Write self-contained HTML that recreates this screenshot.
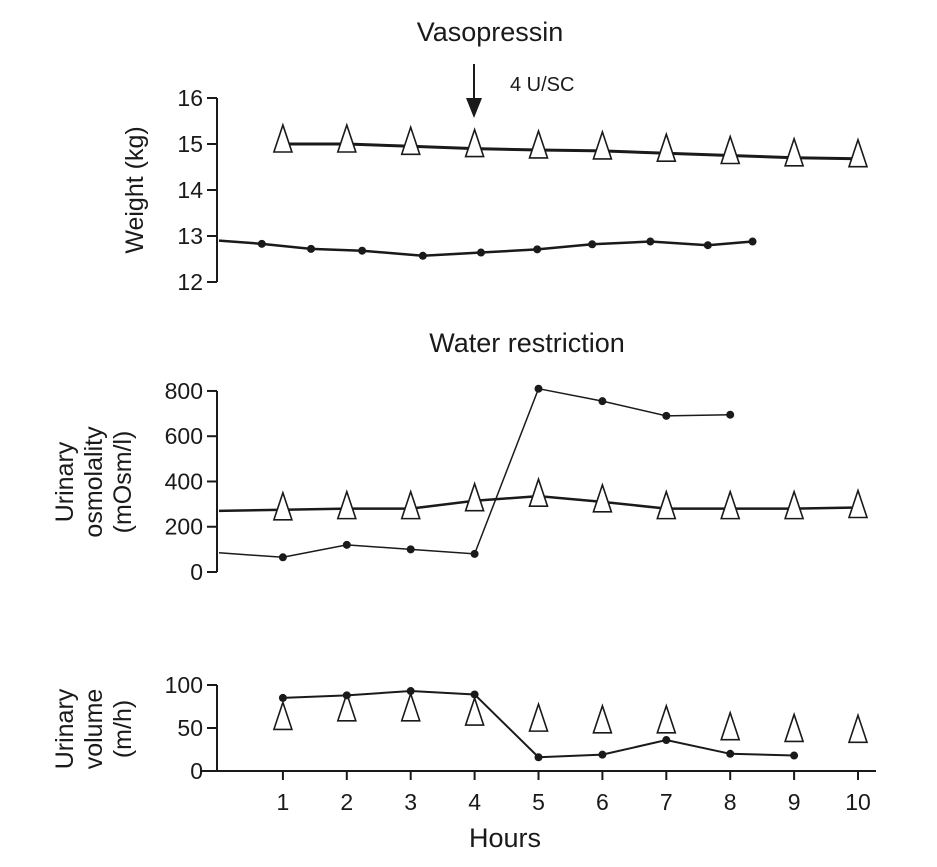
<!DOCTYPE html>
<html><head><meta charset="utf-8"><style>
body{margin:0;background:#fff}
text{font-family:"Liberation Sans",sans-serif;fill:#1a1a1a}
</style></head><body>
<svg id="c" width="937" height="862" xmlns="http://www.w3.org/2000/svg"></svg>
<script>
const hours=[1,2,3,4,5,6,7,8,9,10];
const wtTri=[15.0,15.0,14.95,14.9,14.87,14.85,14.8,14.75,14.7,14.68];
const wtDotH=[0,0.67,1.44,2.24,3.19,4.1,4.98,5.84,6.75,7.65,8.35];
const wtDot=[12.9,12.83,12.72,12.68,12.57,12.64,12.71,12.82,12.88,12.8,12.88];
const osmTriH=[0,1,2,3,4,5,6,7,8,9,10];
const osmTri=[270,275,280,280,315,335,310,280,280,280,285];
const osmDotH=[0,1,2,3,4,5,6,7,8];
const osmDot=[85,65,120,100,80,810,755,690,695];
const volTri=[60,70,70,65,58,56,56,48,46,45];
const volDotH=[1,2,3,4,5,6,7,8,9];
const volDot=[85,88,93,89,16,19,36,20,18];
const wtTicks=[12,13,14,15,16],osmTicks=[0,200,400,600,800],volTicks=[0,50,100];
const NS="http://www.w3.org/2000/svg",svg=document.getElementById('c');
function el(t,a,txt){const e=document.createElementNS(NS,t);for(const k in a)e.setAttribute(k,a[k]);if(txt!==undefined)e.textContent=txt;svg.appendChild(e);return e;}
const X=h=>219+h*63.9;
const yW=v=>282-(v-12)*46, yO=v=>572-v*0.2263, yV=v=>771-v*0.86;
function axis(name,ticks,y){
  const a=el('line',{x1:217,x2:217,y1:y(ticks[ticks.length-1]),y2:y(ticks[0]),stroke:'#1a1a1a','stroke-width':2});
  
  ticks.forEach(t=>{const l=el('line',{x1:207,x2:217,y1:y(t),y2:y(t),stroke:'#1a1a1a','stroke-width':2});
    
    const tx=el('text',{x:203,y:y(t)+8,'text-anchor':'end','font-size':23},t);
    });
}
function line(name,xs,ys,y,w){
  const p=el('polyline',{points:xs.map((h,i)=>X(h)+','+y(ys[i])).join(' '),fill:'none',stroke:'#1a1a1a','stroke-width':w});
  
}
function dots(name,xs,ys,y,skip0){
  xs.forEach((h,i)=>{if(skip0&&i===0)return;const c=el('circle',{cx:X(h),cy:y(ys[i]),r:4,fill:'#1a1a1a'});
    });
}
function tris(name,xs,ys,y,off){
  xs.forEach((h,i)=>{const cx=X(h),cy=y(ys[i])+off;
    const t=el('polygon',{points:`${cx},${cy-17} ${cx-9},${cy+10} ${cx+9},${cy+10}`,fill:'#fff',stroke:'#1a1a1a','stroke-width':1.6});
    });
}
axis('weight',wtTicks,yW);
line('weight-triangle-line',hours,wtTri,yW,3);
tris('weight-triangle-point',hours,wtTri,yW,-2);
line('weight-dot-line',wtDotH,wtDot,yW,2.5);
dots('weight-dot-point',wtDotH,wtDot,yW,true);
axis('osmolality',osmTicks,yO);
line('osmolality-triangle-line',osmTriH,osmTri,yO,2.5);
tris('osmolality-triangle-point',hours,osmTri.slice(1),yO,0);
line('osmolality-dot-line',osmDotH,osmDot,yO,1.5);
dots('osmolality-dot-point',osmDotH,osmDot,yO,true);
axis('volume',volTicks,yV);
tris('volume-triangle-point',hours,volTri,yV,0);
line('volume-dot-line',volDotH,volDot,yV,2);
dots('volume-dot-point',volDotH,volDot,yV,false);
const xa=el('line',{x1:200,x2:876,y1:771,y2:771,stroke:'#1a1a1a','stroke-width':2});

hours.forEach(h=>{const l=el('line',{x1:X(h),x2:X(h),y1:771,y2:780,stroke:'#1a1a1a','stroke-width':2});
  
  const t=el('text',{x:X(h),y:810,'text-anchor':'middle','font-size':23},h);
  });
</script>
<svg width="937" height="862" style="position:absolute;left:0;top:0" xmlns="http://www.w3.org/2000/svg">
<text x="490" y="41" text-anchor="middle" font-size="27">Vasopressin</text>
<line x1="474" y1="64" x2="474" y2="100" stroke="#1a1a1a" stroke-width="2"/>
<polygon points="466,98 482,98 474,118" fill="#1a1a1a"/>
<text x="510" y="91" font-size="20">4 U/SC</text>
<text x="527" y="352" text-anchor="middle" font-size="27">Water restriction</text>
<text transform="translate(143,190) rotate(-90)" text-anchor="middle" font-size="25">Weight (kg)</text>
<text transform="translate(73,482) rotate(-90)" text-anchor="middle" font-size="25"><tspan x="0" dy="0">Urinary</tspan><tspan x="0" dy="29">osmolality</tspan><tspan x="0" dy="29">(mOsm/l)</tspan></text>
<text transform="translate(73,729) rotate(-90)" text-anchor="middle" font-size="25"><tspan x="0" dy="0">Urinary</tspan><tspan x="0" dy="29">volume</tspan><tspan x="0" dy="29">(m/h)</tspan></text>
<text x="505" y="847" text-anchor="middle" font-size="27">Hours</text>
</svg>
</body></html>
